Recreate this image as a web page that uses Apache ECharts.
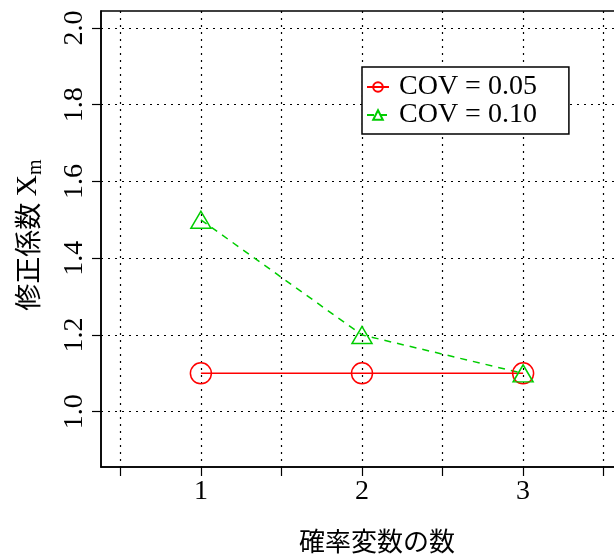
<!DOCTYPE html>
<html>
<head>
<meta charset="utf-8">
<script src="https://cdn.jsdelivr.net/npm/echarts@6/dist/echarts.min.js"></script>
<style>
  html, body { margin: 0; padding: 0; background: #fff; }
  #chart { width: 614px; height: 558px; }
</style>
</head>
<body>
<div id="chart"></div>
<script>
// Number of random variables on x, correction factor Xm on y
const xValues = [1, 2, 3];
const cov005 = [1.1, 1.1, 1.1];
const cov010 = [1.5, 1.2, 1.1];
const seriesNames = ['COV = 0.05', 'COV = 0.10'];

// Axis ranges and tick positions
const xRange = [0.38, 3.62];
const yRange = [0.856, 2.044];
const xTickValues = [0.5, 1, 1.5, 2, 2.5, 3, 3.5];
const xLabelValues = [1, 2, 3];
const yTickValues = [1.0, 1.2, 1.4, 1.6, 1.8, 2.0];

const serif = 'Liberation Serif, Times New Roman, serif';
const cjk = '"Noto Sans CJK JP", sans-serif';

const chart = echarts.init(document.getElementById('chart'), null, { renderer: 'canvas' });

const pairs = (ys) => xValues.map((x, i) => [x, ys[i]]);

chart.setOption({
  animation: false,
  backgroundColor: '#fff',
  grid: {
    left: 101, top: 11, width: 522, height: 456,
    outerBoundsMode: 'none',
    containLabel: false,
    show: true, borderColor: '#000', borderWidth: 1.5,
    backgroundColor: 'transparent'
  },
  xAxis: {
    type: 'value',
    min: xRange[0], max: xRange[1],
    axisLine: { show: true, lineStyle: { color: '#000', width: 1.5 } },
    axisTick: {
      show: true, length: 9, inside: false, customValues: xTickValues,
      lineStyle: { color: '#000', width: 1.2 }
    },
    axisLabel: {
      customValues: xLabelValues, margin: 11,
      fontFamily: serif, fontSize: 28, color: '#000',
      formatter: (v) => String(Math.round(v))
    },
    splitLine: { show: true, lineStyle: { color: '#000', type: [2, 5], width: 1.2 } }
  },
  yAxis: {
    type: 'value',
    min: yRange[0], max: yRange[1],
    axisLine: { show: true, lineStyle: { color: '#000', width: 1.5 } },
    axisTick: {
      show: true, length: 9, inside: false, customValues: yTickValues,
      lineStyle: { color: '#000', width: 1.2 }
    },
    axisLabel: {
      customValues: yTickValues, rotate: 90, margin: 12,
      fontFamily: serif, fontSize: 28, color: '#000',
      formatter: (v) => v.toFixed(1)
    },
    splitLine: { show: true, lineStyle: { color: '#000', type: [2, 5], width: 1.2 } }
  },
  legend: {
    left: 362, top: 67,
    orient: 'vertical',
    backgroundColor: '#fff',
    borderColor: '#000', borderWidth: 1.5, borderRadius: 0,
    padding: [6, 32, 5, 4],
    itemGap: 0,
    itemWidth: 22, itemHeight: 12,
    textStyle: { fontFamily: serif, fontSize: 28, color: '#000', padding: [0, 0, 0, 5], lineHeight: 28 },
    data: seriesNames
  },
  series: [
    {
      name: seriesNames[0],
      type: 'line',
      data: pairs(cov005),
      symbol: 'circle',
      symbolSize: 21,
      lineStyle: { color: '#ff0000', width: 1.5, type: 'solid' },
      itemStyle: { color: 'transparent', borderColor: '#ff0000', borderWidth: 1.5 }
    },
    {
      name: seriesNames[1],
      type: 'line',
      data: pairs(cov010),
      symbol: 'triangle',
      symbolSize: [20, 17],
      lineStyle: { color: '#00cd00', width: 1.5, type: [7, 6] },
      itemStyle: { color: 'transparent', borderColor: '#00cd00', borderWidth: 1.5 }
    }
  ],
  graphic: [
    {
      type: 'text',
      x: 377, y: 541,
      style: {
        text: '確率変数の数',
        font: '26px ' + cjk,
        fill: '#000',
        align: 'center', verticalAlign: 'middle'
      }
    },
    {
      type: 'text',
      x: 28, y: 235,
      rotation: Math.PI / 2,
      style: {
        text: '{a|修正係数 }{x|X}{m|m}',
        align: 'center', verticalAlign: 'middle',
        fill: '#000',
        rich: {
          a: { fontFamily: cjk, fontSize: 27, lineHeight: 36, verticalAlign: 'middle', fill: '#000' },
          x: { fontFamily: serif, fontSize: 30, lineHeight: 36, verticalAlign: 'middle', fill: '#000' },
          m: { fontFamily: serif, fontSize: 20, lineHeight: 36, verticalAlign: 'bottom', fill: '#000' }
        }
      }
    }
  ]
});
</script>
</body>
</html>
